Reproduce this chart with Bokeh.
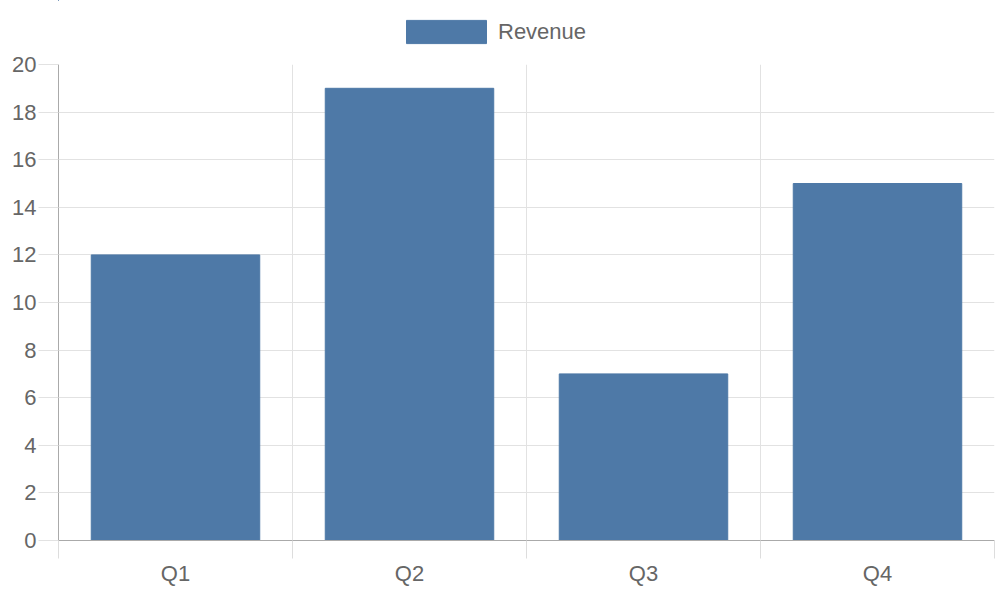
from bokeh.plotting import figure
from bokeh.layouts import column
from bokeh.models import FixedTicker, Range1d, Legend, LegendItem, ColumnDataSource
from bokeh.embed import file_html
from bokeh.resources import INLINE

categories = ["Q1", "Q2", "Q3", "Q4"]
revenue = [12, 19, 7, 15]
y_ticks = [0, 2, 4, 6, 8, 10, 12, 14, 16, 18, 20]
series_name = "Revenue"

BAR = "#4e79a7"
FONT = "Liberation Sans"
TXT = "#666666"
GRID = "#e2e2e2"
AXIS = "#aaaaaa"

xs = [i + 0.5 for i in range(len(categories))]
src = ColumnDataSource(dict(x=xs, top=revenue, cat=categories))

p = figure(frame_width=936, frame_height=476, output_backend="svg", toolbar_location=None,
           x_range=Range1d(0, len(categories)), y_range=Range1d(0, 20),
           min_border_left=58, min_border_right=6, min_border_bottom=60, min_border_top=12)
p.outline_line_color = None

r = p.vbar(x="x", top="top", width=0.72, source=src, fill_color=BAR, line_color=BAR)

# x axis
p.xaxis.ticker = FixedTicker(ticks=xs, minor_ticks=list(range(len(categories) + 1)))
p.xaxis.major_label_overrides = {x: c for x, c in zip(xs, categories)}
p.xaxis.major_tick_out = 0
p.xaxis.major_tick_in = 0
p.xaxis.minor_tick_out = 18
p.xaxis.minor_tick_in = 0
p.xaxis.minor_tick_line_color = "#dddddd"
p.xaxis.axis_line_color = AXIS
p.xaxis.major_label_text_font = FONT
p.xaxis.major_label_text_font_size = "22px"
p.xaxis.major_label_text_color = TXT
p.xaxis.major_label_standoff = 2

# y axis
p.yaxis.ticker = FixedTicker(ticks=y_ticks, minor_ticks=[])
p.yaxis.major_tick_out = 20
p.yaxis.major_tick_in = 0
p.yaxis.major_tick_line_color = GRID
p.yaxis.axis_line_color = AXIS
p.yaxis.major_label_text_font = FONT
p.yaxis.major_label_text_font_size = "22px"
p.yaxis.major_label_text_color = TXT
p.yaxis.major_label_standoff = 2

p.xgrid.ticker = FixedTicker(ticks=list(range(len(categories) + 1)))
p.xgrid.grid_line_color = GRID
p.ygrid.ticker = FixedTicker(ticks=y_ticks)
p.ygrid.grid_line_color = GRID

# legend strip on top (its bar renderer is kept out of view)
lg = figure(width=1000, height=52, output_backend="svg", toolbar_location=None,
            x_range=Range1d(100, 101), y_range=Range1d(-200, -199),
            min_border_left=0, min_border_right=0, min_border_top=0, min_border_bottom=0)
lg.axis.visible = False
lg.grid.visible = False
lg.outline_line_color = None
proxy = lg.vbar(x="x", top="top", width=0.72, source=src, fill_color=BAR, line_color=BAR)
legend = Legend(items=[LegendItem(label=series_name, renderers=[proxy])],
                orientation="horizontal", location=(338, 6),
                glyph_width=100, glyph_height=29, label_text_font=FONT,
                label_text_font_size="22px", label_text_color=TXT,
                border_line_color=None, background_fill_alpha=0,
                padding=0, margin=0, label_standoff=2)
lg.add_layout(legend)

layout = column(lg, p, spacing=0)
open("out.html", "w").write(file_html(layout, INLINE))
